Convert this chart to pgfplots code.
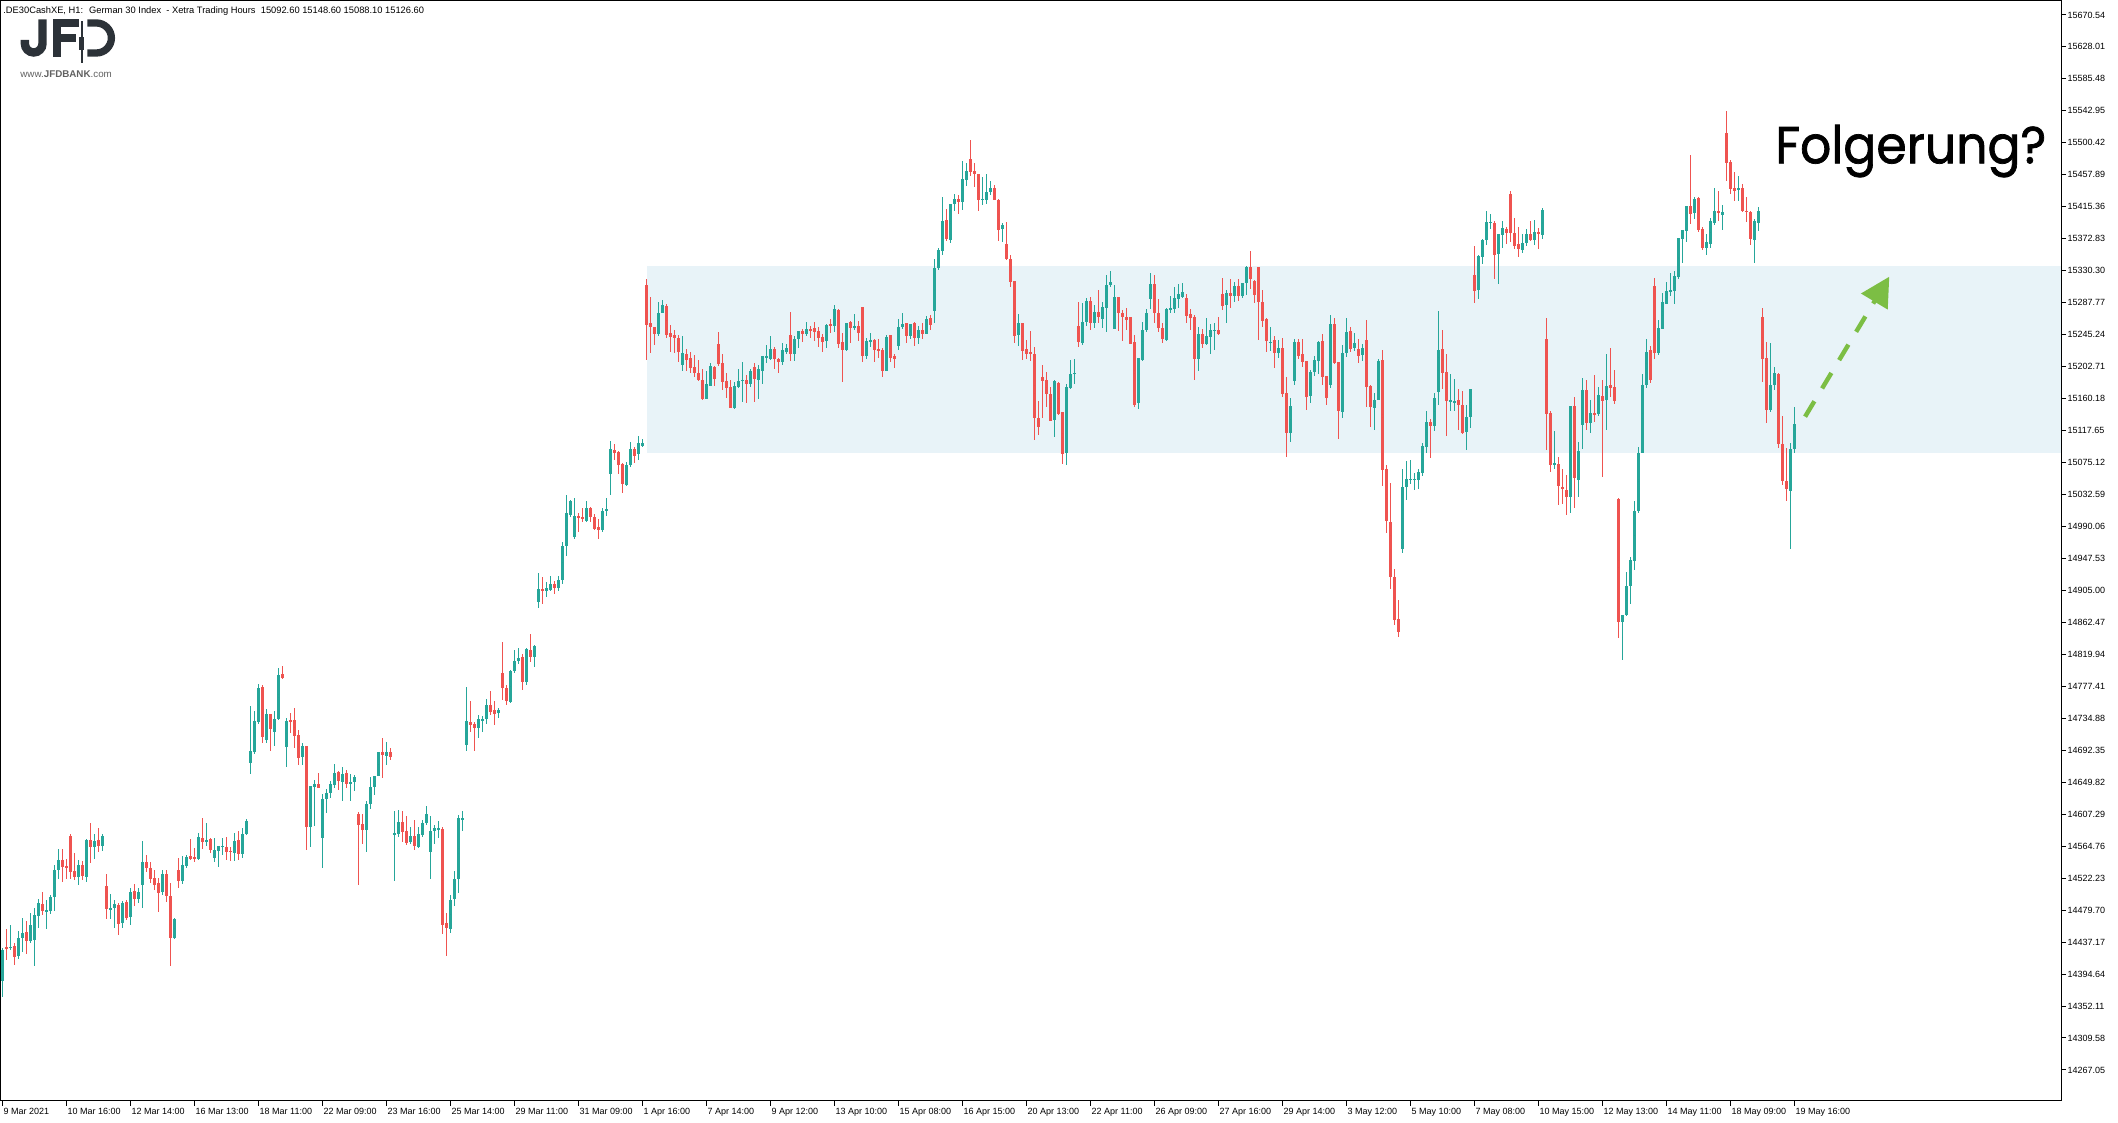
\documentclass[border=0pt]{standalone}
\usepackage{fontspec}
\setmainfont{Liberation Sans}
\newfontfamily\folgfont[FakeBold=1.4]{Poppins}
\usepackage{pgfplots}
\usepackage{pgfplotstable}
\pgfplotsset{compat=1.18}
\usetikzlibrary{arrows.meta}

\definecolor{upcol}{RGB}{38,166,154}
\definecolor{dncol}{RGB}{239,83,80}
\definecolor{zone}{RGB}{232,243,248}
\definecolor{arrowcol}{RGB}{124,190,68}
\definecolor{logo}{RGB}{44,50,56}

\pgfplotsset{
  candle/.style 2 args={only marks, mark=*, mark size=0pt,
    mark options={draw=none, fill=none}, forget plot,
    error bars/.cd, y dir=both, y explicit, error mark=none,
    error bar style={line width=#1, draw=#2}},
}

% hourly candles, x = bar index
\pgfplotstableread{
x o h l c
0 14385 14429 14364 14426
1 14430.6 14454.1 14413.3 14427.9
2 14429 14459.9 14426.6 14431
3 14432 14435.5 14406.7 14417.8
4 14418.6 14451.9 14414.7 14442.1
5 14442.1 14468.7 14424.4 14448.8
6 14450.1 14465.2 14420.9 14438.6
7 14438.6 14475.4 14435.5 14459.9
8 14439.9 14482.1 14405.3 14473.2
9 14471.8 14494 14455.5 14488.7
10 14487.4 14503.3 14473.2 14478.9
11 14477.6 14493.1 14454.6 14479.8
12 14478.9 14499.8 14474.5 14497.6
13 14497.6 14539.7 14478.9 14533
14 14533 14560.5 14520.6 14546.4
15 14546.4 14560.5 14517.5 14537.5
16 14538.4 14547.7 14520.6 14535.7
17 14578.3 14580.9 14521.1 14530.8
18 14531.7 14555.2 14519.7 14524.2
19 14524.2 14546.4 14513.1 14539.7
20 14539.7 14545.5 14519.7 14525.1
21 14524.2 14574.3 14517.5 14573
22 14573 14596 14541.9 14564.1
23 14564.1 14580.9 14547.7 14571.6
24 14573 14588.9 14557 14565.4
25 14565.4 14580.9 14558.8 14578.3
26 14511.8 14527.7 14467.9 14481.2
27 14479.8 14501.1 14467.9 14482.9
28 14482.9 14493.1 14456.3 14487.8
29 14486.5 14488.7 14446.6 14461.2
30 14462.1 14492.2 14456.3 14488.7
31 14490 14493.1 14466.5 14469.6
32 14471 14509.5 14459.9 14504.2
33 14505.1 14514 14485.6 14494.5
34 14494.5 14509.5 14489.6 14504.2
35 14513.1 14571.6 14483 14544.1
36 14544.1 14553 14530.8 14536.2
37 14536.2 14544.1 14515.3 14521.1
38 14521.9 14533 14506.4 14513.1
39 14515.3 14521.9 14477.6 14502.9
40 14504.2 14533 14499.8 14527.3
41 14527.7 14533 14490.9 14498.9
42 14498.5 14515.3 14405.3 14443
43 14443 14469.6 14440.8 14467.9
44 14533 14548.6 14509.5 14518.9
45 14518.9 14551.7 14514.4 14539.7
46 14538.8 14553 14535.3 14550.8
47 14551.7 14574.3 14546.4 14548.1
48 14550.8 14561.9 14544.1 14547.7
49 14547.7 14582.7 14546.4 14577.4
50 14576 14602.7 14561 14570.7
51 14570.7 14595.1 14565.4 14573
52 14574.3 14576 14555.2 14559.7
53 14549.4 14576 14544.1 14559.7
54 14558.8 14565.4 14537.5 14565
55 14563.6 14576 14553 14565
56 14564.1 14577.4 14546.4 14557.4
57 14558.8 14564.1 14545.5 14557
58 14556.1 14582.7 14545.5 14571.6
59 14573 14584.9 14546.4 14554.3
60 14554.3 14588.5 14549.4 14580.9
61 14580.9 14600.9 14579.6 14598.2
62 14675.8 14751.2 14660.7 14691.3
63 14690 14744.6 14687.3 14731.3
64 14729.5 14780.3 14727.3 14774.7
65 14776 14779.1 14702.4 14710.4
66 14706 14746.8 14702.4 14740.6
67 14740.6 14740.6 14691.3 14720.2
68 14716.6 14744.6 14698 14733.9
69 14733.5 14801.3 14732.6 14792.4
70 14793.8 14804.4 14787.1 14788
71 14697.1 14735.7 14670.5 14731.3
72 14732.6 14741.5 14715.7 14730.4
73 14732.6 14748.1 14695.8 14711.7
74 14712.6 14719.3 14672.7 14682.5
75 14683.8 14702.4 14672.7 14698
76 14698 14698 14559.6 14590.7
77 14590.7 14644.8 14564.1 14644.8
78 14643.9 14652.8 14592 14647.4
79 14647.4 14661.6 14642.6 14642.6
80 14576.1 14634.1 14536.2 14627
81 14627 14640.8 14608.4 14635
82 14634.8 14651.1 14629.2 14647.4
83 14646.4 14674.4 14642.7 14662.7
84 14663.7 14665.1 14639.4 14651.1
85 14650.2 14669.8 14625.4 14661.4
86 14662.3 14666.5 14641.7 14647.4
87 14647.4 14661.4 14625.4 14650.2
88 14650.2 14659.5 14638 14656.7
89 14608.1 14610 14513.4 14592.8
90 14594.2 14608.1 14568 14586.7
91 14586.7 14625.4 14556.4 14620.7
92 14620.7 14656.7 14613.8 14643.6
93 14643.6 14658.1 14633.3 14658.1
94 14658.1 14689.4 14658.1 14689.4
95 14689.4 14708 14655.8 14686.6
96 14685.2 14703.4 14673 14690.3
97 14690.3 14695.4 14679.1 14683.8
98 14581 14611.4 14519 14581.9
99 14581.1 14612.8 14577.3 14596.9
100 14596.9 14611.4 14570.4 14583.4
101 14584.8 14604.4 14566.2 14569.4
102 14570.4 14590.4 14567.1 14578.7
103 14578.7 14599.8 14560.1 14564.8
104 14563.8 14590.4 14562.4 14581.1
105 14580.2 14599.8 14577.3 14596
106 14595.1 14618.4 14592.8 14607.7
107 14556.4 14605.4 14521.4 14584.8
108 14584.8 14592.8 14568 14589
109 14586.7 14598.4 14575 14589
110 14588.1 14590.4 14448.1 14459.8
111 14462.1 14476.1 14419.2 14456
112 14455.1 14499.4 14449.5 14493.4
113 14494.8 14531.2 14485.4 14520.4
114 14520.4 14606.8 14502.7 14602.1
115 14600.7 14611.4 14584.8 14601.7
116 14698.7 14776.1 14690.7 14731.4
117 14729.5 14758.4 14716.4 14725.8
118 14726.7 14730.4 14690.7 14722
119 14722 14739.7 14708.5 14733.7
120 14731.8 14738.3 14716.4 14734.1
121 14734.1 14760.7 14726.7 14752.3
122 14752.3 14771 14739.7 14743.5
123 14745.3 14757.5 14725.8 14740.7
124 14742.1 14748.1 14735.1 14745.3
125 14795.7 14836.3 14759.3 14774.7
126 14774.7 14779.4 14752.8 14758.4
127 14757 14799.5 14755.1 14798.1
128 14797.1 14825.1 14794.8 14810.7
129 14810.7 14828.4 14807.4 14814.4
130 14816.3 14820 14772.4 14782.7
131 14783.1 14828.4 14779.4 14827
132 14825.6 14847.1 14809.7 14816.7
133 14816.7 14831.7 14803.7 14830.7
134 14890 14927.8 14882.1 14906.8
135 14906.8 14922.7 14886.7 14904.5
136 14904.5 14915.7 14896.1 14907.7
137 14905.4 14924.1 14904.5 14913.3
138 14913.3 14917.1 14900.7 14907.7
139 14908.7 14924.1 14904.5 14918.5
140 14918.5 14969.3 14913.8 14964.7
141 14964.7 15031.4 14951.1 15008
142 15005.7 15025.3 15002 15023.4
143 14976.3 15028.1 14974 15004.3
144 15004.3 15008.1 14982.4 15002
145 15002.4 15014.1 14995.4 14999.7
146 14997.8 15023.4 14996.4 15014.1
147 15014.1 15016.4 14996.4 15002.4
148 15002.4 15006.7 14985.6 14987
149 14989.4 14999.7 14974 14985.6
150 14985.6 15014.1 14983.3 15010.4
151 15010.4 15028.1 15004.3 15012.7
152 15060.3 15103.7 15031.4 15093
153 15091.1 15100 15078 15088.3
154 15089.7 15090.6 15060.3 15072.4
155 15073.4 15074.3 15035.1 15046.3
156 15045.4 15075.7 15044.4 15072.4
157 15072.4 15102.3 15069.6 15093
158 15093 15095.3 15074.8 15084.1
159 15086.4 15110.7 15079 15100.9
160 15097.6 15107 15095.3 15100.9
161 15311.3 15319.3 15211.5 15258.1
162 15261.2 15295.8 15220.4 15255
163 15255 15255.9 15231.5 15246.1
164 15246.1 15289.1 15243.5 15274.5
165 15274.5 15291.3 15273.6 15284.7
166 15283.4 15286 15241.2 15244.8
167 15247.9 15258.1 15222.6 15242.6
168 15244.8 15251.4 15221.3 15240.4
169 15241.2 15244.8 15208.4 15222.6
170 15204.9 15243.5 15197.3 15221.3
171 15219.5 15226.2 15197.3 15211.5
172 15214.6 15222.6 15193.8 15201.3
173 15202.7 15218.2 15189.4 15194.7
174 15194.7 15211.5 15184 15184.9
175 15184.9 15199.6 15158.3 15159.2
176 15159.6 15197.3 15159.6 15179.6
177 15177.4 15208 15177.4 15203.5
178 15202.7 15204 15176.9 15186.3
179 15232.8 15249.2 15203.5 15205.8
180 15208 15219.5 15171.6 15182.7
181 15184 15194.7 15161.4 15174.7
182 15176.1 15184.9 15147.2 15147.2
183 15147.2 15182.7 15146.4 15176.9
184 15175.2 15199.6 15174.7 15183.6
185 15183.9 15208.4 15156.1 15185.4
186 15184.9 15191.6 15154.8 15179.6
187 15179.6 15199.6 15176.1 15196.9
188 15201.8 15207.1 15156.1 15186.3
189 15184.9 15204.9 15159.2 15199.6
190 15197.3 15216.9 15179.6 15216.9
191 15213.7 15231.5 15208 15216.9
192 15212.8 15243.5 15211.5 15226.2
193 15226.2 15228.4 15199.6 15212.8
194 15212.4 15214.6 15194.7 15209.3
195 15209.3 15233.7 15204.9 15224.8
196 15222.6 15232.8 15219.5 15227.9
197 15244.8 15275.8 15210.6 15219.5
198 15219.5 15243.5 15210.6 15239
199 15239 15250.1 15227.9 15250.1
200 15250.1 15252.3 15235.9 15246.1
201 15246.1 15262.5 15243.9 15252.3
202 15252.8 15256.8 15241.2 15250.1
203 15254.1 15262.5 15237.2 15249.2
204 15250.1 15255.9 15229.3 15241.2
205 15242.6 15246.1 15222.6 15235.9
206 15237.2 15259.4 15227.9 15258.1
207 15259.4 15265.6 15247.9 15257.2
208 15257.2 15284.7 15249.2 15279.4
209 15278 15279.4 15227 15232.8
210 15235 15247 15182.7 15224.8
211 15224.8 15261.2 15224 15260.3
212 15261.6 15263.4 15233.7 15254.5
213 15255 15272.7 15251.4 15256.8
214 15256.8 15263.4 15237.2 15247.9
215 15281.6 15281.6 15208.4 15217.3
216 15217.3 15240.4 15212.4 15236.8
217 15235.9 15247 15229.3 15238.1
218 15238.1 15239.5 15209.3 15224.8
219 15226.2 15239.5 15214.6 15224
220 15224.8 15227 15189.4 15197.3
221 15197.3 15244.8 15197.3 15241.7
222 15244.8 15244.8 15209.3 15214.6
223 15216.9 15219.1 15201.3 15213.3
224 15230.6 15266.1 15224.8 15255
225 15255.9 15274.5 15252.8 15259.4
226 15260.3 15261.2 15234.6 15243.9
227 15243.9 15259.4 15239 15259.4
228 15261.2 15262.5 15230.6 15241.2
229 15241.2 15256.8 15232.4 15251.4
230 15251.4 15261.2 15239.5 15246.1
231 15246.1 15270.5 15246.1 15266.1
232 15267 15271.4 15251.4 15258.1
233 15277.2 15345.4 15261.2 15334.4
234 15334.4 15360.1 15331.3 15357.9
235 15357 15427.9 15351.2 15396.4
236 15397.8 15412.4 15369.8 15372.1
237 15371.2 15419.1 15367.6 15419.1
238 15419.1 15432.4 15410.2 15425.7
239 15425.7 15431 15405.8 15421.3
240 15421.3 15476.3 15411.1 15452.3
241 15451 15474 15443.4 15463
242 15478.9 15504 15456.8 15462.1
243 15463 15474 15442.1 15458.5
244 15459 15459 15409.8 15424.4
245 15424.4 15455.4 15417.7 15425.7
246 15424.4 15459 15419.1 15435.5
247 15434.6 15449.7 15431 15440.8
248 15440.8 15444.3 15424.4 15424.4
249 15424.4 15425.7 15369.8 15384.5
250 15385.8 15394.2 15369 15391.1
251 15365.9 15395.6 15344.6 15345.9
252 15345.9 15351.2 15309.1 15315.7
253 15316.6 15316.6 15234.6 15243.9
254 15244.8 15272.7 15230.6 15260.3
255 15260.3 15260.3 15211.5 15224
256 15226.2 15238.1 15212.8 15219.5
257 15222.6 15250.1 15210.6 15219.5
258 15219.5 15228.4 15105.1 15134.8
259 15134.8 15157 15111.8 15122.8
260 15188.5 15204.9 15133.9 15184
261 15184.9 15196 15149.5 15165.9
262 15165.9 15176.1 15130.8 15130.8
263 15131.7 15184.9 15109.5 15183.6
264 15180.5 15181.8 15138.4 15139.7
265 15141.9 15142.8 15073.2 15086.5
266 15087.4 15179.6 15071.8 15175.2
267 15174.7 15211.5 15172.5 15192.5
268 15193.6 15212.4 15179.6 15194.2
269 15256.8 15288.3 15229.3 15235.9
270 15233.7 15287.8 15231.5 15261.6
271 15261.6 15293.6 15257.2 15290
272 15290 15295.8 15251.4 15261.2
273 15261.2 15284.7 15254.5 15275
274 15275 15304.7 15260.3 15269.2
275 15266.1 15288.3 15253.7 15282.5
276 15281.2 15324.6 15249.2 15311.3
277 15311.3 15329.9 15309.1 15314.9
278 15252.8 15311.3 15252.8 15295.8
279 15295.8 15295.8 15250.1 15273.6
280 15274.5 15278 15236.8 15268.3
281 15269.2 15281.2 15251.4 15264.8
282 15269.2 15269.2 15232.8 15232.8
283 15235.9 15244.8 15149.5 15151.7
284 15153.9 15214.6 15146.4 15214.6
285 15211.5 15262.5 15210.2 15251.4
286 15251.4 15279 15249.2 15274.5
287 15292.7 15327.7 15279.4 15312.6
288 15312.6 15324.6 15261.2 15274.5
289 15274.5 15292.7 15249.2 15254.5
290 15253.7 15261.2 15234.6 15239
291 15238.1 15281.2 15236.8 15279.4
292 15278 15297.1 15274.5 15281.2
293 15279.4 15309.1 15274.5 15294.5
294 15292.7 15312.2 15280.3 15298.9
295 15295.8 15314.4 15293.6 15302.4
296 15294.5 15299.3 15261.2 15270.5
297 15272.7 15278.9 15251.4 15267.9
298 15269.2 15271.4 15184.9 15212.9
299 15212.9 15255.9 15197.3 15246.1
300 15246.1 15252.8 15228 15232.8
301 15232.8 15267.9 15231.5 15243.9
302 15242.6 15259 15219.5 15251.4
303 15250.5 15260.3 15224.8 15251.4
304 15251.4 15269.2 15244.8 15246.1
305 15299.3 15321.1 15278 15283.8
306 15284.7 15304.7 15261.2 15300.2
307 15301.1 15319.3 15281.2 15297.1
308 15297.1 15315.8 15289.1 15310.4
309 15310.4 15319.3 15290 15297.1
310 15297.1 15313.5 15293.6 15313.5
311 15314.4 15337 15298 15335.7
312 15335.7 15357 15305.5 15318.8
313 15316.6 15318 15286.9 15298
314 15335.7 15335.7 15238.1 15289.1
315 15289.1 15304.7 15255.9 15263.9
316 15265.6 15267 15222.6 15237.3
317 15234.2 15255.9 15224 15235.9
318 15238.1 15243.5 15201.3 15221.3
319 15220.4 15238.1 15214.6 15227
320 15227 15240.4 15162.8 15166.3
321 15167.2 15188.5 15083 15114.9
322 15114.9 15160.6 15102.9 15150.3
323 15184 15239.5 15178.3 15235
324 15235 15239.5 15212.8 15217.3
325 15219.5 15239.5 15202.7 15209.3
326 15210.2 15210.2 15145 15162.8
327 15163.6 15198.2 15154.8 15196
328 15196 15217.3 15190.2 15211.5
329 15210.6 15236.8 15192.9 15235.9
330 15236.8 15246.1 15178.3 15189.4
331 15190.7 15190.7 15151.7 15161.4
332 15178.3 15271.4 15173.8 15259.4
333 15259.4 15267 15206.2 15207.1
334 15208.4 15208.4 15106.5 15143.7
335 15142.8 15231.5 15134.8 15221.3
336 15221.3 15267 15216 15249.2
337 15250.1 15255 15222.6 15226.2
338 15227 15247 15223.5 15234.6
339 15226.2 15239.5 15207.1 15217.3
340 15218.2 15232.4 15210.6 15227
341 15238.1 15264.8 15148.6 15176.1
342 15177 15178.3 15122.8 15149.5
343 15147.2 15167.2 15118.4 15158.3
344 15158.3 15212.8 15158.3 15210.2
345 15211.5 15224.8 15044.4 15065.2
346 15066.5 15071.9 14981.9 14997.8
347 14996.5 15048.4 14906.9 14923.3
348 14923.3 14933.1 14859 14865.7
349 14866.5 14892.3 14843.5 14850.1
350 14960.1 15066.1 14955.2 15042.2
351 15043.1 15077.2 15025.3 15052.8
352 15052.3 15078.5 15046.2 15053.2
353 15052.3 15061.7 15038.6 15053.2
354 15051.9 15066.5 15040 15063
355 15060.8 15100.7 15057.7 15097.6
356 15096.2 15143.7 15087.4 15129.5
357 15129.5 15133 15081.6 15124.2
358 15124.2 15168.1 15117.5 15161.4
359 15169.4 15276.7 15151.7 15224.8
360 15226.2 15251.4 15172.5 15194.7
361 15196 15219.5 15110.4 15157.4
362 15156.1 15192.9 15144.1 15158.3
363 15155.2 15186.3 15144.1 15157
364 15158.3 15173 15118.4 15151.7
365 15151.7 15170.3 15112.6 15114
366 15116.2 15151.7 15091.8 15136.2
367 15136.2 15173 15121.5 15173
368 15324.6 15363.2 15287.8 15303.8
369 15304.7 15351.2 15292.7 15349.9
370 15349 15372.1 15339.3 15371.2
371 15371.2 15409.8 15364.5 15395.6
372 15394.2 15405.8 15385.8 15395.6
373 15394.2 15396.4 15319.3 15351.2
374 15352.6 15379.2 15312.6 15379.2
375 15377.8 15396.9 15361 15386.7
376 15385.8 15388.9 15365.9 15380
377 15432.4 15436.4 15368.9 15380.9
378 15380.9 15400 15359.2 15363.2
379 15365.9 15388 15349 15359.2
380 15357.9 15379.2 15354.3 15366.7
381 15366.7 15385.8 15363.2 15379.2
382 15379.2 15396.4 15369.8 15371.2
383 15371.2 15397.8 15364.5 15382.3
384 15382.3 15387.6 15359.2 15379.2
385 15377.8 15414.2 15372.5 15411.1
386 15239.5 15267 15091.8 15139.7
387 15141.5 15143.7 15063 15071.8
388 15071.8 15117.1 15066.5 15074.9
389 15073.2 15083 15018.6 15044.4
390 15042.6 15066.2 15020.5 15040.1
391 15039.1 15058.8 15005.7 15029.3
392 15029.3 15149.9 15008.1 15149.9
393 15149.9 15162.2 15014.6 15054.9
394 15051.5 15102.2 15029.3 15089.9
395 15125.3 15187.8 15093.3 15171
396 15171 15184.4 15117.9 15127.8
397 15127.8 15158.3 15114.5 15141.5
398 15141 15191.7 15129.2 15138.6
399 15140.1 15175.5 15137.6 15164.7
400 15163.7 15184.4 15056.4 15157.3
401 15158.8 15218.8 15118.9 15177
402 15178.5 15227.7 15162.2 15174.5
403 15175.5 15198.1 15152.4 15157.3
404 15026.9 15027.8 14842.3 14863
405 14863 14871.8 14812.8 14871.8
406 14871.8 14929.4 14870.8 14911.2
407 14911.2 14949.6 14886.6 14945.7
408 14944.7 15024.4 14931.9 15010.6
409 15010.6 15095.8 15008.2 15088.4
410 15088.4 15192.7 15088.4 15178
411 15178 15239.5 15174.5 15222.3
412 15224.7 15230.1 15180.9 15184.4
413 15309.9 15321.2 15212.9 15221.3
414 15221.3 15264.6 15217.8 15254.7
415 15253.3 15300 15253.3 15288.7
416 15286.2 15314.7 15285.3 15303.4
417 15302.4 15327.1 15296.6 15304.9
418 15303.4 15329.5 15285.3 15323.1
419 15322.2 15373.8 15319.7 15373.8
420 15372.8 15384.7 15340.9 15384.7
421 15383.7 15415.7 15368.9 15415.7
422 15415.7 15483.6 15392.5 15405.8
423 15406.8 15428.9 15399.4 15425.5
424 15427 15428 15381.2 15384.7
425 15386.1 15388.6 15357.6 15360.1
426 15360.1 15378.8 15351.7 15367.9
427 15366.4 15400.9 15360.1 15397
428 15393.5 15440.3 15391.1 15409.8
429 15409.3 15436.8 15396 15407.3
430 15404.3 15418.1 15384.7 15408.3
431 15513.1 15542.6 15450.1 15473.2
432 15474.7 15477.2 15432.9 15438.8
433 15440.3 15461.4 15423.1 15436.8
434 15437.8 15456.5 15423.1 15440.3
435 15440.3 15445.2 15408.3 15409.8
436 15409.8 15428 15394.5 15408.3
437 15408.3 15409.8 15364 15372.4
438 15371.4 15399.4 15340.9 15397
439 15393.5 15414.7 15383.7 15409.8
440 15269 15281.3 15181.9 15212.9
441 15213.9 15236 15127.8 15145
442 15145 15234.6 15142.5 15178.5
443 15177.9 15202.6 15172 15194.2
444 15193.2 15194.2 15094.8 15099.7
445 15099.7 15137.6 15045.6 15050.5
446 15050.5 15094.3 15024.4 15040.1
447 15037.7 15101.7 14960.4 15093.3
448 15092.6 15148.6 15088.1 15126.6
}\candles

\begin{document}
\begin{tikzpicture}[x=1pt,y=1pt]
\useasboundingbox (0,0) rectangle (1059,561.5);
\begin{axis}[
  at={(0.5pt,11pt)}, anchor=south west,
  scale only axis, width=1030pt, height=550.25pt,
  xmin=-0.325, xmax=514.675, ymin=14225.74, ymax=15689.73,
  axis line style={black, line width=0.5pt},
  tick align=outside, major tick length=2.5pt,
  tick style={black, line width=0.5pt},
  xtick pos=left, ytick pos=right, yticklabel pos=right,
  xtick={0,16,...,448},
  xticklabels={9 Mar 2021,10 Mar 16:00,12 Mar 14:00,16 Mar 13:00,18 Mar 11:00,22 Mar 09:00,23 Mar 16:00,25 Mar 14:00,29 Mar 11:00,31 Mar 09:00,1 Apr 16:00,7 Apr 14:00,9 Apr 12:00,13 Apr 10:00,15 Apr 08:00,16 Apr 15:00,20 Apr 13:00,22 Apr 11:00,26 Apr 09:00,27 Apr 16:00,29 Apr 14:00,3 May 12:00,5 May 10:00,7 May 08:00,10 May 15:00,12 May 13:00,14 May 11:00,18 May 09:00,19 May 16:00},
  ytick={14267.05,14309.58,14352.11,14394.64,14437.17,14479.70,14522.23,14564.76,14607.29,14649.82,14692.35,14734.88,14777.41,14819.94,14862.47,14905.00,14947.53,14990.06,15032.59,15075.12,15117.65,15160.18,15202.71,15245.24,15287.77,15330.30,15372.83,15415.36,15457.89,15500.42,15542.95,15585.48,15628.01,15670.54},
  yticklabels={14267.05,14309.58,14352.11,14394.64,14437.17,14479.70,14522.23,14564.76,14607.29,14649.82,14692.35,14734.88,14777.41,14819.94,14862.47,14905.00,14947.53,14990.06,15032.59,15075.12,15117.65,15160.18,15202.71,15245.24,15287.77,15330.30,15372.83,15415.36,15457.89,15500.42,15542.95,15585.48,15628.01,15670.54},
  scaled y ticks=false,
  xticklabel style={font=\fontsize{4.5}{5}\selectfont, anchor=north west, inner sep=0pt, xshift=0.5pt, yshift=-1pt},
  yticklabel style={font=\fontsize{4.5}{5}\selectfont, anchor=west, inner sep=0pt, xshift=0.6pt},
  /pgf/number format/assume math mode=true,
]
% resistance / support zone
\addplot[fill=zone, draw=none, forget plot] coordinates
  {(161.25,15088.3) (514.675,15088.3) (514.675,15336.6) (161.25,15336.6)} -- cycle;

% wicks
\addplot[candle={0.5pt}{upcol}]
  table[x=x, y expr={\thisrow{c}<\thisrow{o} ? nan : 0.5*(\thisrow{h}+\thisrow{l})},
        y error expr={0.5*(\thisrow{h}-\thisrow{l})}] {\candles};
\addplot[candle={0.5pt}{dncol}]
  table[x=x, y expr={\thisrow{c}<\thisrow{o} ? 0.5*(\thisrow{h}+\thisrow{l}) : nan},
        y error expr={0.5*(\thisrow{h}-\thisrow{l})}] {\candles};
% bodies
\addplot[candle={1.5pt}{upcol}]
  table[x=x, y expr={\thisrow{c}<\thisrow{o} ? nan : 0.5*(\thisrow{o}+\thisrow{c})},
        y error expr={max(0.5*(\thisrow{c}-\thisrow{o}),0.4)}] {\candles};
\addplot[candle={1.5pt}{dncol}]
  table[x=x, y expr={\thisrow{c}<\thisrow{o} ? 0.5*(\thisrow{o}+\thisrow{c}) : nan},
        y error expr={max(0.5*(\thisrow{o}-\thisrow{c}),0.4)}] {\candles};

% expected move
\addplot[arrowcol, line width=2.2pt, dash pattern=on 9pt off 7.5pt,
  -{Triangle[length=14.5pt,width=15pt]}, forget plot]
  coordinates {(450.7,15136.1) (471.75,15322.3)};
\end{axis}

% header line
\node[anchor=base west, inner sep=0pt, font=\fontsize{4.66}{5}\selectfont]
  at (1.5,554.85) {.DE30CashXE, H1:~ German 30 Index~ - Xetra Trading Hours~ 15092.60 15148.60 15088.10 15126.60};

% logo
\draw[logo, line width=4.2pt] (21.25,551.85) -- (21.25,539.65)
  arc[start angle=0, end angle=-180, radius=4.4] -- (12.45,541.5);
\fill[logo] (26.65,533.15) rectangle (30.35,551.85);
\fill[logo] (26.65,548.15) rectangle (39.35,551.85);
\fill[logo] (26.65,540.65) rectangle (38,544.35);
\fill[logo] (40.45,529.85) rectangle (41.25,551.15);
\fill[logo] (39.65,536.5) rectangle (42.05,542.85);
\draw[logo, line width=3.65pt] (43.65,550) -- (48.2,550)
  arc[start angle=90, end angle=-90, radius=7.5] -- (43.65,535);
\node[anchor=base west, inner sep=0pt, text=black!62, font=\fontsize{4.9}{5}\selectfont]
  at (10,522.85) {www.\textbf{JFDBANK}.com};

% annotation
\node[anchor=base west, inner sep=0pt, font=\folgfont\fontsize{26}{30}\selectfont]
  at (887.5,479.85) {\scalebox{0.94}[1]{Folgerung?}};
\end{tikzpicture}
\end{document}
